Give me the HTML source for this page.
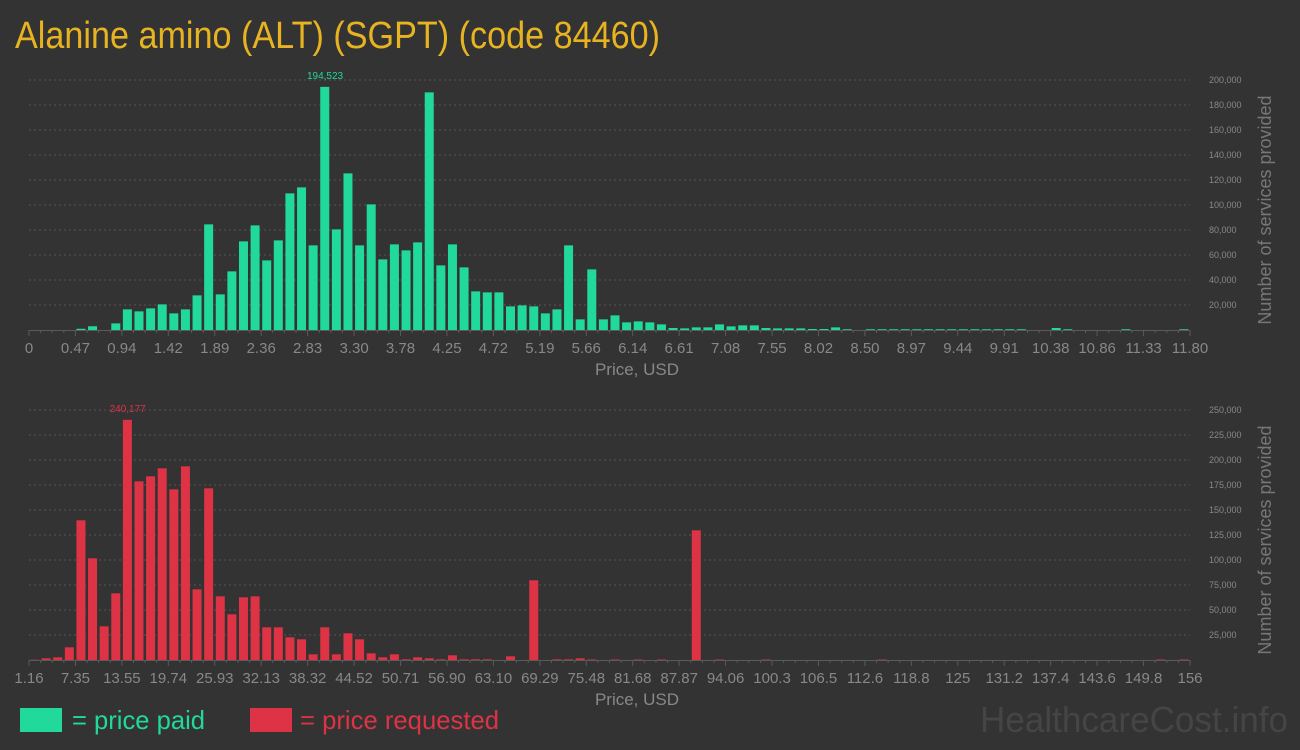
<!DOCTYPE html>
<html><head><meta charset="utf-8"><style>
html,body{margin:0;padding:0;background:#333333;}
svg{display:block;font-family:"Liberation Sans Narrow","Liberation Sans",sans-serif;}
</style></head><body>
<svg id="chart" width="1300" height="750" viewBox="0 0 1300 750">
<rect width="1300" height="750" fill="#333333"/>
<text x="15" y="48" font-size="38" fill="#e8b321" textLength="645" lengthAdjust="spacingAndGlyphs">Alanine amino (ALT) (SGPT) (code 84460)</text>
<g id="top"></g>
<g id="bot"></g>
<rect x="20" y="708" width="42" height="24" fill="#20d99a"/>
<text x="72" y="729" font-size="26" fill="#20d99a" textLength="133" lengthAdjust="spacingAndGlyphs">= price paid</text>
<rect x="250" y="708" width="42" height="24" fill="#dd3344"/>
<text x="300" y="729" font-size="26" fill="#dd3344" textLength="199" lengthAdjust="spacingAndGlyphs">= price requested</text>
<text x="1288" y="732" font-size="36" fill="#454545" text-anchor="end" textLength="308" lengthAdjust="spacingAndGlyphs">HealthcareCost.info</text>
</svg>
<script>
const paidValues=[0,0,0,0,1000,3000,0,5300,16500,14900,17300,20500,13300,16500,27700,84500,28500,46900,70900,83700,55700,71700,109300,114100,67700,194523,80500,125300,67700,100500,56500,68500,63700,70100,190100,51700,68500,50100,30900,30100,30100,18900,19700,18900,13300,16500,67700,8500,48500,8500,11700,6100,6900,6100,4500,1600,1300,2100,2100,4500,2900,3700,3700,1600,1300,1300,1300,800,800,2100,600,0,600,600,600,600,600,600,600,600,600,600,600,600,600,600,0,0,1600,600,0,0,0,0,600,0,0,0,0,600];
const paidTicks=["0","0.47","0.94","1.42","1.89","2.36","2.83","3.30","3.78","4.25","4.72","5.19","5.66","6.14","6.61","7.08","7.55","8.02","8.50","8.97","9.44","9.91","10.38","10.86","11.33","11.80"];
const paidYTicks=[20000,40000,60000,80000,100000,120000,140000,160000,180000,200000];
const reqValues=[300,1700,2700,12700,139700,101700,33700,66700,240177,178700,183700,191700,170700,193700,70700,171700,63700,45700,62700,63700,32700,32700,22700,20700,5700,32700,5700,26700,20700,6700,2700,5700,700,2700,1700,700,4700,700,700,700,0,3700,0,79700,0,700,700,1700,500,0,500,0,500,0,500,0,0,129700,0,500,0,0,0,500,0,0,0,0,0,0,0,0,0,500,0,0,0,0,0,0,0,0,0,0,0,0,0,0,0,0,0,0,0,0,0,0,0,500,0,500];
const reqTicks=["1.16","7.35","13.55","19.74","25.93","32.13","38.32","44.52","50.71","56.90","63.10","69.29","75.48","81.68","87.87","94.06","100.3","106.5","112.6","118.8","125","131.2","137.4","143.6","149.8","156"];
const reqYTicks=[25000,50000,75000,100000,125000,150000,175000,200000,225000,250000];
const NS="http://www.w3.org/2000/svg";
function mk(tag,attrs,parent){const e=document.createElementNS(NS,tag);for(const k in attrs)e.setAttribute(k,attrs[k]);parent.appendChild(e);return e;}
function draw(g,values,ticks,yticks,yMax,base,top,color,peakLabel,prefix){
  const x0=29,x1=1190,n=values.length,bw=(x1-x0)/n;
  const y=v=>base-(v/yMax)*(base-top);
  const xb=i=>x0+i*bw;
  yticks.forEach(t=>{
    const l=mk('line',{x1:x0,x2:x1,y1:y(t),y2:y(t),stroke:'#555','stroke-width':1,'stroke-dasharray':'2,3'},g);
    
    
    const tx=mk('text',{x:1209,y:y(t)+3,'font-size':9,fill:'#888'},g);
    tx.textContent=t.toLocaleString('en-US');
    
    
  });
  const ax=mk('line',{x1:x0,x2:x1,y1:base+0.5,y2:base+0.5,stroke:'#5a5a5a','stroke-width':1},g);
  
  
  for(let i=0;i<=n;i++){
    const major=i%4===0;
    const tk=mk('line',{x1:xb(i),x2:xb(i),y1:base,y2:base+(major?6:3),stroke:'#5a5a5a'},g);
    
    
  }
  ticks.forEach((t,k)=>{
    const tx=mk('text',{x:xb(k*4),y:base+23,'font-size':15,fill:'#888','text-anchor':'middle'},g);
    tx.textContent=t;
    
    
  });
  let pk=0;values.forEach((v,i)=>{if(v>values[pk])pk=i;});
  values.forEach((v,i)=>{
    if(v<=0)return;
    const r=mk('rect',{x:xb(i)+1,y:y(v),width:bw-2.6,height:base-y(v),fill:color},g);
    
    
  });
  const pl=mk('text',{x:xb(pk)+bw/2,y:y(values[pk])-8,'font-size':10,fill:color,'text-anchor':'middle'},g);
  pl.textContent=values[pk].toLocaleString('en-US');
  
  
  const xt=mk('text',{x:637,y:base+45,'font-size':17,fill:'#888','text-anchor':'middle'},g);
  xt.textContent='Price, USD';
  
  
  const cy=(base+top)/2+5;
  const yt=mk('text',{x:1271,y:cy,'font-size':18,fill:'#777','text-anchor':'middle',transform:'rotate(-90 1271 '+cy+')'},g);
  yt.textContent='Number of services provided';
  
  
}
draw(document.getElementById('top'),paidValues,paidTicks,paidYTicks,200000,330,80,'#20d99a',true,'paid');
draw(document.getElementById('bot'),reqValues,reqTicks,reqYTicks,250000,660,410,'#dd3344',true,'requested');
</script>
</body></html>
